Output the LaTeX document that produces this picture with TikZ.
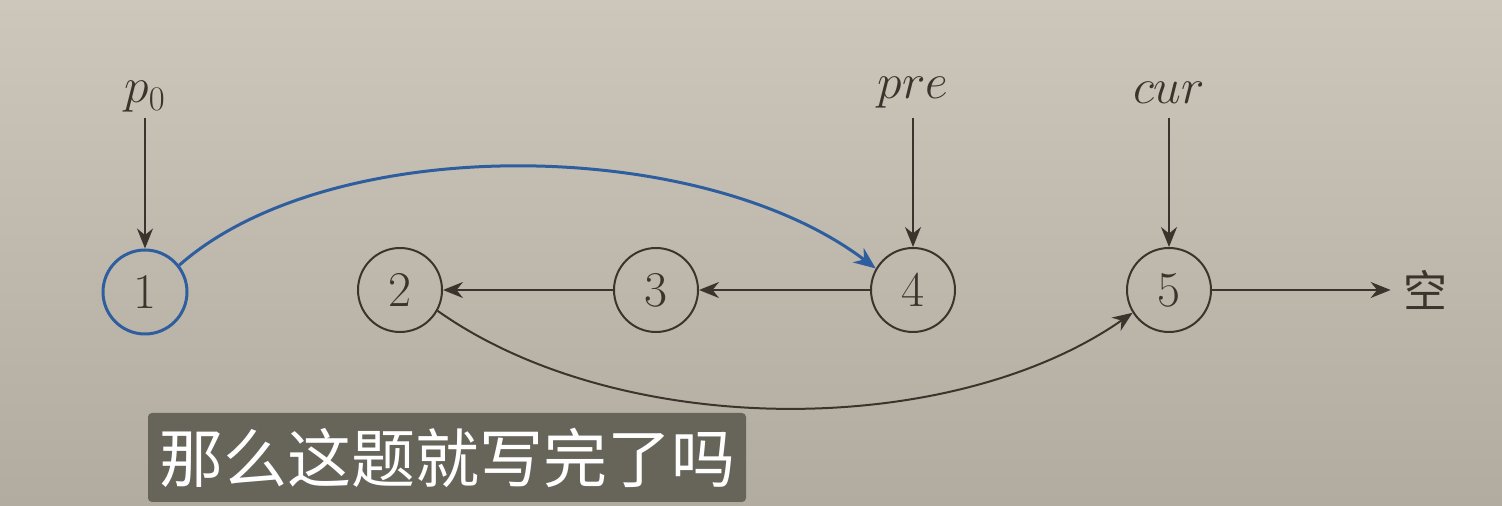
\documentclass[tikz,border=0pt]{standalone}
\usepackage{fontspec}
\newfontfamily\cjk{Noto Sans CJK SC}
\usetikzlibrary{arrows.meta}
\definecolor{bgtop}{HTML}{CDC7BB}
\definecolor{bgbot}{HTML}{B2ACA0}
\definecolor{ink}{HTML}{3A342C}
\definecolor{myblue}{HTML}{2F5E9E}
\definecolor{subbox}{HTML}{67645A}
\begin{document}
\begin{tikzpicture}[x=0.5pt,y=-0.5pt,
  cnode/.style={circle,draw=ink,line width=1pt,minimum size=42pt,inner sep=0pt,font=\fontsize{25}{28}\selectfont,text=ink},
  lbl/.style={font=\fontsize{25}{28}\selectfont,text=ink},
  conn/.style={draw=ink,line width=1pt,-{Stealth[length=10pt,width=8pt]}},
  blueconn/.style={draw=myblue,line width=1.5pt,-{Stealth[length=11pt,width=9pt]}}]
\useasboundingbox (0,0) rectangle (1502,506);
\fill[top color=bgtop,bottom color=bgbot] (0,0) rectangle (1502,506);
% nodes
\node[cnode,draw=myblue,line width=1.5pt] (n1) at (145,292) {1};
\node[cnode] (n2) at (400,290) {2};
\node[cnode] (n3) at (656,290) {3};
\node[cnode] (n4) at (913,290) {4};
\node[cnode] (n5) at (1169,290) {5};
\node[font=\cjk\fontsize{22}{26}\selectfont,text=ink,inner sep=6pt] (empty) at (1425,290) {空};
% pointer labels
\node[lbl] (p0) at (145,97) {$p_0$};
\node[lbl] (pre) at (913,93) {$pre$};
\node[lbl] (cur) at (1169,93) {$cur$};
\coordinate (p0b) at (145,118);
\coordinate (preb) at (913,118);
\coordinate (curb) at (1169,118);
\draw[conn] (p0b) -- (n1);
\draw[conn] (preb) -- (n4);
\draw[conn] (curb) -- (n5);
% list links
\draw[conn] (n4) -- (n3);
\draw[conn] (n3) -- (n2);
\draw[conn] (n5) -- (empty);
\draw[conn] (n2.-29) .. controls (620,440) and (950,440) .. (n5.-148);
\draw[blueconn] (n1.38) .. controls (330,132) and (700,135) .. (n4.150);
% subtitle
\node[fill=subbox,rounded corners=2pt,text=white,font=\cjk\fontsize{32}{36}\selectfont,minimum width=299pt,minimum height=44.5pt,inner sep=0pt] (sub) at (447,457.5) {那么这题就写完了吗};
\end{tikzpicture}
\end{document}
